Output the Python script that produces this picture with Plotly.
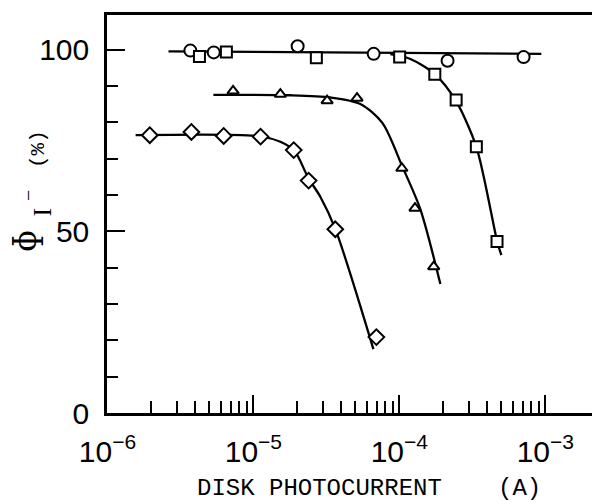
import plotly.graph_objects as go

# ---- data ----
circle_x = [3.70e-6, 5.35e-6, 2.01e-5, 6.67e-5, 2.14e-4, 7.10e-4]
circle_y = [99.8, 99.3, 101.0, 98.9, 97.0, 98.0]

square_x = [4.27e-6, 6.53e-6, 2.70e-5, 1.005e-4, 1.75e-4, 2.45e-4, 3.37e-4, 4.67e-4]
square_y = [98.2, 99.4, 97.8, 98.0, 93.3, 86.2, 73.3, 47.2]

triangle_x = [7.26e-6, 1.53e-5, 3.20e-5, 5.13e-5, 1.04e-4, 1.28e-4, 1.72e-4]
triangle_y = [88.7, 87.8, 86.0, 86.7, 67.4, 56.4, 40.3]

diamond_x = [1.95e-6, 3.76e-6, 6.26e-6, 1.12e-5, 1.89e-5, 2.39e-5, 3.64e-5, 6.96e-5]
diamond_y = [76.5, 77.4, 76.3, 76.1, 72.4, 64.0, 50.6, 20.9]

# fitted curves as drawn in the picture
flat_curve_x = [2.62e-6, 9.39e-4]
flat_curve_y = [99.6, 98.9]

square_curve_x = [8.68e-5, 1.19e-4, 1.74e-4, 2.42e-4, 3.37e-4, 4.69e-4, 5.00e-4]
square_curve_y = [98.8, 97.5, 93.4, 86.2, 73.3, 47.1, 43.5]

triangle_curve_x = [5.32e-6, 1.79e-5, 3.37e-5, 5.41e-5, 7.65e-5, 1.05e-4, 1.39e-4, 1.91e-4]
triangle_curve_y = [87.6, 87.5, 86.9, 85.1, 79.9, 67.8, 56.2, 35.5]

diamond_curve_x = [1.56e-6, 1.12e-5, 1.53e-5, 1.91e-5, 2.38e-5, 2.88e-5, 3.64e-5, 6.64e-5]
diamond_curve_y = [76.5, 76.2, 74.7, 72.2, 64.7, 59.5, 50.7, 17.6]

x_major = [1e-6, 1e-5, 1e-4, 1e-3]
x_major_text = ["10<sup>−6</sup>", "10<sup>−5</sup>", "10<sup>−4</sup>", "10<sup>−3</sup>"]
x_minor = [m * d for d in (1e-6, 1e-5, 1e-4) for m in range(2, 10)]
y_major = [0, 50, 100]
y_minor = [10, 20, 30, 40, 60, 70, 80, 90]

# ---- figure ----
W, H = 592, 502
L, R, T, B = 107, 0, 15, 89
pw, ph = W - L - R, H - T - B

def px(x):
    return (x - L) / pw

def py(y):
    return (H - B - y) / ph

fig = go.Figure()
line = dict(color="black", width=2.3)
for cx, cy in [(flat_curve_x, flat_curve_y), (square_curve_x, square_curve_y),
               (triangle_curve_x, triangle_curve_y), (diamond_curve_x, diamond_curve_y)]:
    fig.add_trace(go.Scatter(x=cx, y=cy, mode="lines", line=dict(shape="spline", smoothing=0.8, **line),
                             hoverinfo="skip"))

mk_line = dict(color="black", width=2)
fig.add_trace(go.Scatter(x=circle_x, y=circle_y, mode="markers",
                         marker=dict(symbol="circle", size=12, color="white", line=mk_line)))
fig.add_trace(go.Scatter(x=square_x, y=square_y, mode="markers",
                         marker=dict(symbol="square", size=11, color="white", line=mk_line)))
fig.add_trace(go.Scatter(x=triangle_x, y=triangle_y, mode="markers",
                         marker=dict(symbol="triangle-up", size=10, color="white", line=mk_line)))
fig.add_trace(go.Scatter(x=diamond_x, y=diamond_y, mode="markers",
                         marker=dict(symbol="diamond", size=12, color="white", line=mk_line)))

tickfont = dict(family="Liberation Sans, Arial, sans-serif", size=30, color="black")

fig.update_xaxes(type="log", range=[-6.003, -2.68], showgrid=False, zeroline=False, automargin=False,
                 showline=True, linecolor="black", linewidth=2.5, mirror=True,
                 tickmode="array", tickvals=x_major, ticktext=x_major_text,
                 ticks="inside", ticklen=18, tickwidth=2, tickcolor="black",
                 tickfont=tickfont, ticklabelstandoff=10,
                 minor=dict(tickmode="array", tickvals=x_minor, ticks="inside", ticklen=12,
                            tickwidth=2, tickcolor="black", showgrid=False))
fig.update_yaxes(range=[0, 109.6], showgrid=False, zeroline=False, automargin=False,
                 showline=True, linecolor="black", linewidth=2.5,
                 tickmode="array", tickvals=y_major, ticktext=[str(v) for v in y_major],
                 ticks="inside", ticklen=18, tickwidth=2, tickcolor="black",
                 tickfont=tickfont, ticklabelstandoff=9,
                 minor=dict(tickmode="array", tickvals=y_minor, ticks="inside", ticklen=11,
                            tickwidth=2, tickcolor="black", showgrid=False))

mono = "Liberation Mono, DejaVu Sans Mono, monospace"
serif = "DejaVu Serif, Liberation Serif, serif"
ann = [
    dict(text="DISK PHOTOCURRENT", x=px(319), y=py(488), font=dict(family=mono, size=24)),
    dict(text="(A)", x=px(519.5), y=py(488), font=dict(family=mono, size=24)),
    dict(text="ɸ", x=px(25), y=py(241), textangle=-90, font=dict(family=serif, size=32)),
    dict(text="I", x=px(41.5), y=py(212), textangle=-90, font=dict(family="Liberation Serif, serif", size=26)),
    dict(text="−", x=px(28), y=py(196), textangle=-90, font=dict(family="Liberation Serif, serif", size=20)),
    dict(text="(%)", x=px(38), y=py(149), textangle=-90, font=dict(family=mono, size=21)),
]
for a in ann:
    a["font"]["color"] = "black"
    fig.add_annotation(xref="paper", yref="paper", showarrow=False,
                       xanchor="center", yanchor="middle", **a)

fig.update_layout(width=W, height=H, margin=dict(l=L, r=R, t=T, b=B),
                  paper_bgcolor="white", plot_bgcolor="white", showlegend=False)

fig.write_html("out.html", config={"displayModeBar": False},
               post_script="document.body.style.margin='0';document.body.style.overflow='hidden';")
